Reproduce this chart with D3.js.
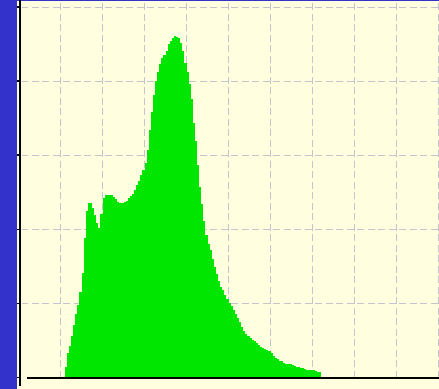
<!DOCTYPE html>
<html>
<head>
<meta charset="utf-8">
<script src="https://cdn.jsdelivr.net/npm/d3@7"></script>
<style>
  html, body { margin: 0; padding: 0; background: #ffffe0; overflow: hidden; }
  svg { display: block; }
</style>
</head>
<body>
<svg id="chart" width="439" height="389"></svg>
<script>
// Histogram of intensity levels: one count per bin, starting at bin 22
const firstBin = 22;
const counts = [
  14, 32, 42, 56, 70, 85, 97, 115, 140, 188,
  224, 235, 235, 228, 218, 208, 201, 220, 242, 246,
  246, 246, 245, 243, 240, 236, 235, 235, 236, 238,
  241, 244, 247, 252, 259, 265, 272, 280, 289, 307,
  333, 357, 380, 399, 412, 423, 431, 435, 440, 450,
  454, 458, 460, 459, 457, 451, 440, 424, 412, 396,
  375, 343, 318, 286, 257, 234, 211, 191, 180, 171,
  159, 149, 139, 130, 122, 117, 111, 105, 100, 96,
  91, 85, 79, 74, 68, 62, 58, 55, 52, 50,
  48, 46, 43, 41, 39, 38, 36, 35, 32, 28,
  26, 24, 22, 21, 19, 18, 18, 17, 16, 15,
  14, 13, 12, 12, 11, 10, 10, 10, 9, 8,
  7, 7
];
const xTicks = [20, 40, 60, 80, 100, 120, 140, 160, 180, 200];
const yTicks = [0, 100, 200, 300, 400, 500];

const W = 439, H = 389;
const colors = {
  bg: "#ffffe0",
  band: "#3333cc",
  grid: "#c4c4cc",
  bar: "#00e600",
  axis: "#000000"
};

const svg = d3.select("#chart");

const x = d3.scaleLinear().domain([0, 200]).range([18.5, 438.5]);
const y = d3.scaleLinear().domain([0, 500]).range([377, 6.5]);

svg.append("rect").attr("width", W).attr("height", H).attr("fill", colors.bg);

// left band and top edge
svg.append("rect").attr("x", 0).attr("y", 0).attr("width", 17).attr("height", H).attr("fill", colors.band);
svg.append("rect").attr("x", 0).attr("y", 0).attr("width", W).attr("height", 1).attr("fill", colors.band);

// dashed grid
const grid = svg.append("g")
  .attr("stroke", colors.grid)
  .attr("stroke-width", 1.5)
  .attr("stroke-dasharray", "7,3.5")
  .attr("shape-rendering", "crispEdges");

grid.selectAll("line.v").data(xTicks).join("line")
  .attr("class", "v")
  .attr("x1", d => Math.floor(x(d)) + 0.5).attr("x2", d => Math.floor(x(d)) + 0.5)
  .attr("y1", 3).attr("y2", 377);

grid.selectAll("line.h").data(yTicks.filter(d => d > 0)).join("line")
  .attr("class", "h")
  .attr("x1", 22).attr("x2", W)
  .attr("y1", d => Math.round(y(d)) + 0.5).attr("y2", d => Math.round(y(d)) + 0.5)
  .attr("stroke-dashoffset", 1);

// histogram bars
svg.append("g")
  .attr("fill", colors.bar)
  .attr("shape-rendering", "crispEdges")
  .selectAll("rect").data(counts).join("rect")
  .attr("x", (d, i) => x(firstBin + i))
  .attr("width", (d, i) => x(firstBin + i + 1) - x(firstBin + i))
  .attr("y", d => y(d))
  .attr("height", d => y(0) - y(d));

// y axis ticks (no labels)
const yAxis = svg.append("g")
  .attr("transform", "translate(20,0)")
  .call(d3.axisLeft(y).tickValues(yTicks).tickSize(3).tickFormat(""));
yAxis.select(".domain").remove();
yAxis.selectAll(".tick line").attr("stroke", colors.axis).attr("stroke-width", 1.5).attr("shape-rendering", "crispEdges");

// axis lines
svg.append("line")
  .attr("x1", 20).attr("x2", 20).attr("y1", 0).attr("y2", 386)
  .attr("stroke", colors.axis).attr("stroke-width", 2);
svg.append("line")
  .attr("x1", 27).attr("x2", W).attr("y1", 378).attr("y2", 378)
  .attr("stroke", colors.axis).attr("stroke-width", 2);
</script>
</body>
</html>
